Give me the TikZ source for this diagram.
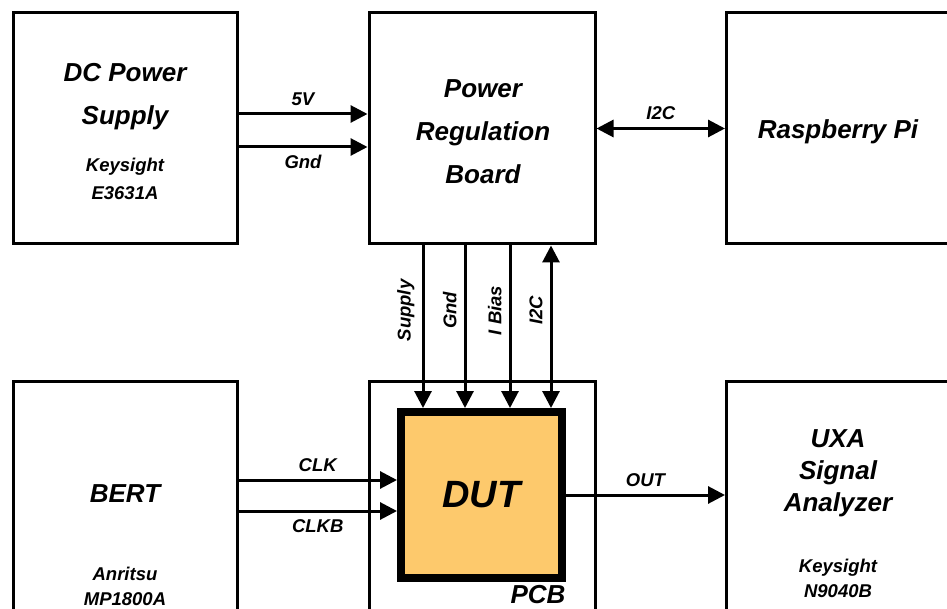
\documentclass[tikz,border=0pt]{standalone}
\usepackage{fontspec}
\setmainfont{Liberation Sans}
\usetikzlibrary{arrows.meta,positioning}
\definecolor{dutfill}{RGB}{253,201,108}

\begin{document}
\begin{tikzpicture}[
    x=1pt, y=-1pt,
    box/.style={
        rectangle,
        draw=black,
        line width=3pt,
        inner sep=0pt
    },
    title/.style={
        font=\fontsize{26}{43}\selectfont\bfseries\itshape,
        align=center
    },
    sub/.style={
        font=\fontsize{18.5}{25}\selectfont\bfseries\itshape,
        align=center
    },
    sig/.style={
        font=\fontsize{18.5}{22}\selectfont\bfseries\itshape,
        inner sep=7pt
    },
    wire/.style={
        -{Triangle[length=17pt, width=17pt]},
        line width=3pt
    },
    bus/.style={
        {Triangle[length=17pt, width=17pt]}-{Triangle[length=17pt, width=17pt]},
        line width=3pt
    }
]

\useasboundingbox (0,0) rectangle (947,609);

% === BOXES ===

% Top row
\node[box, minimum width=224pt, minimum height=231pt] (dc) at (125,128.5) {};
\node[box, minimum width=226pt, minimum height=231pt] (prb) at (482,128.5) {};
\node[box, minimum width=240pt, minimum height=231pt] (rpi) at (846.5,128.5) {};

% Bottom row
\node[box, minimum width=224pt, minimum height=257pt] (bert) at (125,510) {};
\node[box, minimum width=226pt, minimum height=257pt] (pcb) at (482,510) {};
\node[box, minimum width=240pt, minimum height=257pt] (uxa) at (846.5,510) {};

% DUT on the PCB
\node[box, line width=8pt, fill=dutfill, minimum width=161pt, minimum height=166pt,
      font=\fontsize{38}{40}\selectfont\bfseries\itshape] (dut) at (481.5,495) {DUT};

% === TEXTS ===

\node[title] (dctitle) at (125,97) {DC Power\\Supply};
\node[sub, font=\fontsize{18.5}{28}\selectfont\bfseries\itshape] (dcsub) at (125,179) {Keysight\\E3631A};

\node[title] (prbtitle) at (483,132) {Power\\Regulation\\Board};

\node[title] (rpititle) at (838,132) {Raspberry Pi};

\node[title] (berttitle) at (125,494) {BERT};
\node[sub] (bertsub) at (125,586) {Anritsu\\MP1800A};

\node[title, font=\fontsize{26}{32}\selectfont\bfseries\itshape] (uxatitle) at (838,473) {UXA\\Signal\\Analyzer};
\node[sub] (uxasub) at (838,578) {Keysight\\N9040B};

\node[title] (pcblabel) at (538,595) {PCB};

% === ARROWS ===

% Power supply to regulation board
\draw[wire] ([yshift=14.5pt]dc.east) -- ([yshift=14.5pt]prb.west)
    node[midway, above, sig] {5V};
\draw[wire] ([yshift=-18.5pt]dc.east) -- ([yshift=-18.5pt]prb.west)
    node[midway, below, sig] {Gnd};

% Regulation board to Raspberry Pi
\draw[bus] (prb.east) -- (rpi.west)
    node[midway, above, sig] {I2C};

% Regulation board to DUT
\draw[wire] ([xshift=-59pt]prb.south) -- ([xshift=-58.5pt]dut.north)
    node[pos=0.4, rotate=90, anchor=south, sig] {Supply};
\draw[wire] ([xshift=-17pt]prb.south) -- ([xshift=-16.5pt]dut.north)
    node[pos=0.4, rotate=90, anchor=south, sig] {Gnd};
\draw[wire] ([xshift=28pt]prb.south) -- ([xshift=28.5pt]dut.north)
    node[pos=0.4, rotate=90, anchor=south, sig] {I Bias};
\draw[bus] ([xshift=69pt]prb.south) -- ([xshift=69.5pt]dut.north)
    node[pos=0.4, rotate=90, anchor=south, sig] {I2C};

% BERT to DUT
\draw[wire] ([yshift=30pt]bert.east) -- ([yshift=15pt]dut.west)
    node[midway, above, sig] {CLK};
\draw[wire] ([yshift=-1pt]bert.east) -- ([yshift=-16pt]dut.west)
    node[midway, below, sig] {CLKB};

% DUT to signal analyzer
\draw[wire] (dut.east) -- (dut.east -| uxa.west)
    node[midway, above, sig] {OUT};

\end{tikzpicture}
\end{document}
